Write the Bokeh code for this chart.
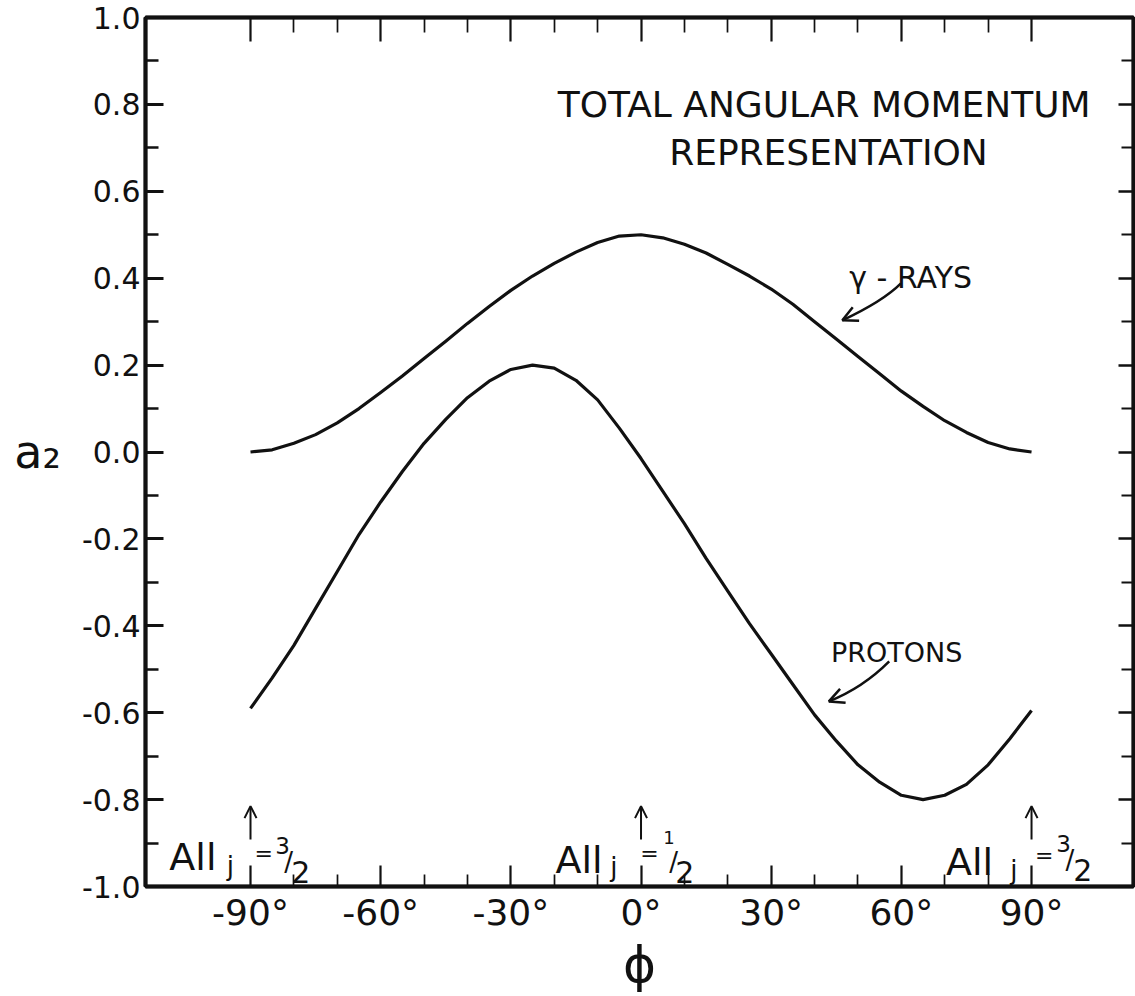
from bokeh.plotting import figure
from bokeh.models import (Range1d, FixedTicker, LinearAxis, Label, Arrow, OpenHead,
                          PrintfTickFormatter, CustomLabelingPolicy)
from bokeh.embed import file_html
from bokeh.resources import INLINE

# ---------------- data ----------------
phi = [-90, -85, -80, -75, -70, -65, -60, -55, -50, -45, -40, -35, -30, -25, -20, -15, -10, -5, 0,
       5, 10, 15, 20, 25, 30, 35, 40, 45, 50, 55, 60, 65, 70, 75, 80, 85, 90]

gamma_rays = [0.000, 0.005, 0.020, 0.040, 0.067, 0.100, 0.137, 0.175, 0.215, 0.255, 0.296, 0.335,
              0.372, 0.405, 0.434, 0.460, 0.482, 0.497, 0.500, 0.493, 0.478, 0.458, 0.432, 0.405,
              0.375, 0.340, 0.300, 0.260, 0.220, 0.180, 0.140, 0.105, 0.072, 0.045, 0.022, 0.007, 0.000]

protons = [-0.590, -0.520, -0.445, -0.360, -0.275, -0.190, -0.115, -0.045, 0.020, 0.075, 0.125, 0.163,
           0.190, 0.200, 0.193, 0.165, 0.120, 0.055, -0.015, -0.090, -0.165, -0.245, -0.320, -0.395,
           -0.465, -0.535, -0.605, -0.665, -0.720, -0.760, -0.790, -0.800, -0.790, -0.765, -0.720,
           -0.660, -0.595]

x_ticks = [-90, -60, -30, 0, 30, 60, 90]
x_tick_labels = ["-90°", "-60°", "-30°", "0°", "30°", "60°", "90°"]
x_minor_ticks = [-80, -70, -50, -40, -20, -10, 10, 20, 40, 50, 70, 80]

y_ticks = [-1.0, -0.8, -0.6, -0.4, -0.2, 0.0, 0.2, 0.4, 0.6, 0.8, 1.0]
y_tick_labels = ["-1.0", "-0.8", "-0.6", "-0.4", "-0.2", "0.0", "0.2", "0.4", "0.6", "0.8", "1.0"]
y_minor_ticks = [-0.9, -0.7, -0.5, -0.3, -0.1, 0.1, 0.3, 0.5, 0.7, 0.9]

x_title = "ϕ"
y_title = "a₂"

FONT = "DejaVu Sans"
INK = "#111111"

p = figure(width=1135, height=996,
           x_range=Range1d(-114.2, 113.5), y_range=Range1d(-1.0, 1.0),
           output_backend="svg", toolbar_location=None,
           x_axis_location=None, y_axis_location=None,
           min_border_left=145, min_border_right=2, min_border_top=17, min_border_bottom=109,
           background_fill_color="white", border_fill_color="white")
p.outline_line_color = INK
p.outline_line_width = 3.5
p.xgrid.visible = False
p.ygrid.visible = False


def axis(ticks, minor, labels, show, major_len, minor_len, font_size, tick_w, fmt):
    ax = LinearAxis(ticker=FixedTicker(ticks=ticks, minor_ticks=minor),
                    formatter=PrintfTickFormatter(format=fmt),
                    axis_line_color=INK, axis_line_width=4,
                    major_tick_in=major_len, major_tick_out=0,
                    minor_tick_in=minor_len, minor_tick_out=0,
                    major_tick_line_color=INK, minor_tick_line_color=INK,
                    major_tick_line_width=tick_w, minor_tick_line_width=tick_w - 0.5,
                    major_label_text_font=FONT, major_label_text_color=INK,
                    major_label_text_font_size=font_size,
                    major_label_standoff=5 if show else 0)
    if show:
        ax.major_label_overrides = {t: l for t, l in zip(ticks, labels)}
    else:
        ax.major_label_policy = CustomLabelingPolicy(code="")
    return ax


xb = axis(x_ticks, x_minor_ticks, x_tick_labels, True, 21, 12, "36px", 2.2, "%d°")
xb.axis_label = x_title
xb.axis_label_text_font = FONT
xb.axis_label_text_font_size = "50px"
xb.axis_label_text_font_style = "normal"
xb.axis_label_text_color = INK
xb.axis_label_standoff = 0
p.add_layout(xb, "below")
p.add_layout(axis(x_ticks, x_minor_ticks, x_tick_labels, False, 24, 15, "0px", 2.2, "%d°"), "above")

yl = axis(y_ticks, y_minor_ticks, y_tick_labels, True, 18, 13, "30px", 3, "%.1f")
yl.axis_label = y_title
yl.axis_label_text_font = FONT
yl.axis_label_text_font_size = "46px"
yl.axis_label_text_font_style = "normal"
yl.axis_label_text_color = INK
yl.axis_label_standoff = 18
try:
    yl.axis_label_orientation = "horizontal"
except Exception:
    pass
p.add_layout(yl, "left")
p.add_layout(axis(y_ticks, y_minor_ticks, y_tick_labels, False, 15, 12, "0px", 2.5, "%.1f"), "right")

# ---------------- curves ----------------
p.line(phi, gamma_rays, line_color=INK, line_width=3.2, line_join="round")
p.line(phi, protons, line_color=INK, line_width=3.2, line_join="round")


def label(x, y, text, size, align="left", baseline="alphabetic"):
    p.add_layout(Label(x=x, y=y, text=text, text_font=FONT, text_font_size=size,
                       text_align=align, text_baseline=baseline, text_color=INK))


# title
label(42.2, 0.80, "TOTAL ANGULAR MOMENTUM", "36px", align="center")
label(43.2, 0.69, "REPRESENTATION", "36px", align="center")

# curve labels with curved arrows
label(48.0, 0.402, "γ - RAYS", "30px")
label(43.8, -0.462, "PROTONS", "27px")

p.quadratic(x0=[59.9, 57.2], y0=[0.388, -0.482], x1=[46.4, 43.3], y1=[0.303, -0.574],
            cx=[55.8, 51.1], cy=[0.347, -0.543], line_color=INK, line_width=2.5)
p.add_layout(Arrow(end=OpenHead(size=15, line_width=2.5, line_color=INK),
                   x_start=55.8, y_start=0.347, x_end=46.4, y_end=0.303, line_alpha=0))
p.add_layout(Arrow(end=OpenHead(size=15, line_width=2.5, line_color=INK),
                   x_start=51.1, y_start=-0.543, x_end=43.3, y_end=-0.574, line_alpha=0))

# "All j↑ = 3/2" style annotations
for xa in (-90, 0, 90):
    p.add_layout(Arrow(end=OpenHead(size=12, line_width=2, line_color=INK),
                       x_start=xa, y_start=-0.892, x_end=xa, y_end=-0.815,
                       line_color=INK, line_width=2))

# left group
label(-108.7, -0.933, "All", "38px")
label(-95.5, -0.952, "j", "26px")
label(-89.1, -0.925, "=", "22px")
label(-84.3, -0.906, "3", "23px")
label(-82.2, -0.943, "/", "26px")
label(-80.6, -0.966, "2", "30px")
# middle group
label(-19.7, -0.938, "All", "38px")
label(-7.1, -0.954, "j", "26px")
label(-0.2, -0.925, "=", "22px")
label(5.1, -0.887, "1", "18px")
label(6.5, -0.943, "/", "26px")
label(7.9, -0.966, "2", "30px")
# right group
label(70.3, -0.943, "All", "38px")
label(85.1, -0.963, "j", "26px")
label(90.8, -0.928, "=", "22px")
label(95.7, -0.901, "3", "23px")
label(97.8, -0.938, "/", "26px")
label(99.6, -0.961, "2", "30px")

open("out.html", "w").write(file_html(p, INLINE))
